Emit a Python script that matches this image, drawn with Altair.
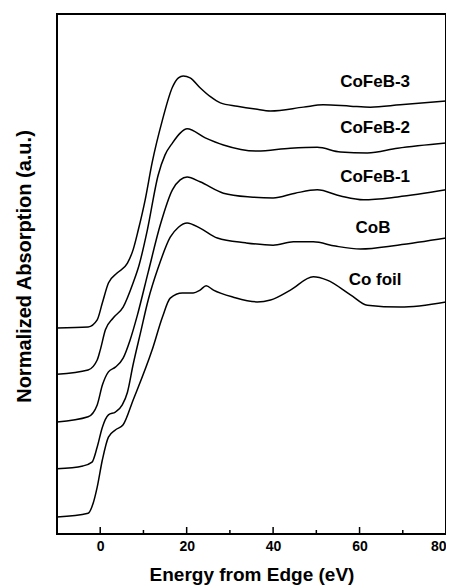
import altair as alt
import pandas as pd

# ---- data (energy in eV, absorption in offset a.u.) ----
cofeb3_e = [-10, -2.8, -0.7, 0.5, 1.9, 3.9, 6.3, 7.6, 8.8, 10.4, 12.0, 14.4, 16.7, 18.1, 19.2, 20.8, 23.1, 25.5, 27.8, 31.7, 35.9, 39.4, 47.0, 51.6, 57.9, 62.5, 69.4, 80.0]
cofeb3_a = [4.36, 4.38, 4.53, 4.89, 5.31, 5.52, 5.73, 6.01, 6.43, 7.07, 7.85, 8.76, 9.45, 9.65, 9.69, 9.65, 9.44, 9.25, 9.12, 9.05, 8.99, 8.95, 9.03, 9.08, 9.05, 9.03, 9.08, 9.16]

cofeb2_e = [-10, -2.8, -0.7, 0.0, 1.2, 3.0, 5.3, 7.6, 9.0, 10.9, 13.4, 15.0, 16.7, 18.5, 20.1, 24.3, 28.5, 36.3, 44.0, 50.2, 55.6, 61.8, 68.8, 80.0]
cofeb2_a = [3.38, 3.47, 3.68, 3.89, 4.32, 4.57, 4.80, 5.31, 5.69, 6.43, 7.59, 8.02, 8.27, 8.48, 8.57, 8.38, 8.23, 8.10, 8.16, 8.18, 8.08, 8.06, 8.16, 8.27]

cofeb1_e = [-10, -2.8, -0.7, 0.5, 1.9, 3.5, 5.3, 6.9, 8.6, 11.1, 13.9, 16.7, 18.5, 20.1, 23.1, 28.5, 34.7, 40.0, 45.1, 50.2, 55.6, 60.9, 68.8, 80.0]
cofeb1_a = [2.37, 2.48, 2.73, 3.15, 3.43, 3.53, 3.72, 4.10, 4.63, 5.54, 6.54, 7.28, 7.49, 7.55, 7.45, 7.21, 7.13, 7.11, 7.21, 7.28, 7.15, 7.07, 7.13, 7.28]

cob_e = [-10, -4.0, -1.9, -0.7, 0.5, 1.9, 3.5, 5.1, 6.3, 7.6, 9.3, 11.1, 13.4, 16.2, 18.1, 20.1, 23.1, 27.1, 33.6, 40.0, 44.7, 49.3, 54.4, 60.2, 68.8, 80.0]
cob_a = [1.38, 1.44, 1.52, 1.84, 2.26, 2.52, 2.58, 2.73, 3.00, 3.58, 4.25, 4.95, 5.63, 6.28, 6.49, 6.58, 6.47, 6.26, 6.16, 6.11, 6.18, 6.18, 6.09, 6.03, 6.11, 6.26]

cofoil_e = [-10, -2.8, -1.6, -0.7, 0.5, 1.9, 3.5, 5.3, 7.6, 12.0, 14.4, 16.2, 19.0, 21.5, 23.1, 24.5, 26.2, 30.8, 36.3, 39.4, 44.0, 49.3, 52.5, 57.9, 61.8, 69.4, 80.0]
cofoil_a = [0.36, 0.44, 0.66, 0.99, 1.57, 2.05, 2.20, 2.31, 2.83, 3.89, 4.59, 4.99, 5.10, 5.10, 5.16, 5.25, 5.16, 5.01, 4.91, 4.95, 5.16, 5.44, 5.37, 5.06, 4.84, 4.80, 4.91]

series_names = ["CoFeB-3", "CoFeB-2", "CoFeB-1", "CoB", "Co foil"]
label_e = [63.6, 63.6, 63.6, 63.1, 63.6]
label_a = [9.56, 8.59, 7.55, 6.47, 5.37]

x_ticks_major = [0, 20, 40, 60, 80]
x_ticks_minor = [10, 30, 50, 70]

W, H = 389, 520
FONT = "Liberation Sans"

rows = []
for name, es, ab in zip(series_names,
                        [cofeb3_e, cofeb2_e, cofeb1_e, cob_e, cofoil_e],
                        [cofeb3_a, cofeb2_a, cofeb1_a, cob_a, cofoil_a]):
    for i, (e, a) in enumerate(zip(es, ab)):
        rows.append({"series": name, "energy": e, "abs": a, "order": i})
df = pd.DataFrame(rows)

xs = alt.Scale(domain=[-10, 80], nice=False, zero=False)
ys = alt.Scale(domain=[0, 11], nice=False, zero=False)

lines = alt.Chart(df).mark_line(color="black", strokeWidth=1.5, interpolate="monotone").encode(
    x=alt.X("energy:Q", scale=xs,
            axis=alt.Axis(values=x_ticks_major, title="Energy from Edge (eV)", grid=False, ticks=False,
                          domain=False, labelFont=FONT, labelFontWeight="bold", labelFontSize=14,
                          labelColor="black", labelPadding=5, titleFont=FONT, titleFontWeight="bold",
                          titleFontSize=19, titleColor="black", titlePadding=12)),
    y=alt.Y("abs:Q", scale=ys,
            axis=alt.Axis(title="Normalized Absorption (a.u.)", labels=False, ticks=False, grid=False,
                          domain=False, titleFont=FONT, titleFontWeight="bold", titleFontSize=20,
                          titleColor="black", titlePadding=23, titleY=252)),
    detail="series:N",
    order="order:Q",
)

labels = alt.Chart(pd.DataFrame({"name": series_names, "e": label_e, "a": label_a})).mark_text(
    font=FONT, fontWeight="bold", fontSize=17, color="black", align="center", baseline="middle"
).encode(x=alt.X("e:Q", scale=xs), y=alt.Y("a:Q", scale=ys), text="name:N")

major = alt.Chart(pd.DataFrame({"t": x_ticks_major})).mark_rule(color="black", strokeWidth=1.5).encode(
    x=alt.X("t:Q", scale=xs), y=alt.value(H), y2=alt.value(H - 7))
minor = alt.Chart(pd.DataFrame({"t": x_ticks_minor})).mark_rule(color="black", strokeWidth=1.5).encode(
    x=alt.X("t:Q", scale=xs), y=alt.value(H), y2=alt.value(H - 4))

frame = alt.Chart(pd.DataFrame({"f": [0]})).mark_rect(
    fill="transparent", stroke="black", strokeWidth=2
).encode(x=alt.value(0), x2=alt.value(W), y=alt.value(0), y2=alt.value(H))

chart = alt.layer(lines, labels, major, minor, frame).properties(
    width=W, height=H,
    background="white",
    autosize=alt.AutoSizeParams(type="none"),
    padding={"left": 49, "top": 6, "right": 0, "bottom": 52},
).configure_view(stroke=None)

chart.save("out.html", embed_options={"renderer": "svg", "actions": False})
